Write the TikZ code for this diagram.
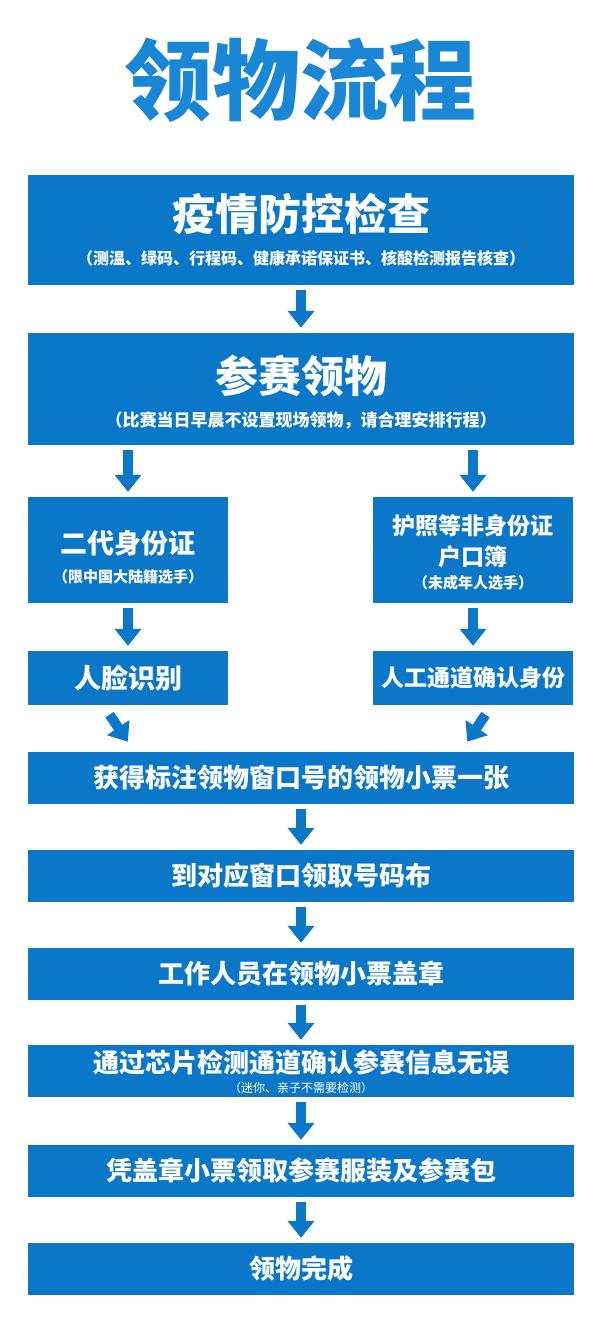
\documentclass[tikz,border=0pt]{standalone}
\usepackage{fontspec}
\setmainfont{Noto Sans CJK SC}
\usetikzlibrary{arrows.meta}
\definecolor{boxblue}{HTML}{0B77C8}
\definecolor{titleblue}{HTML}{1A86D6}
\tikzset{
    stepbox/.style={fill=boxblue, text=white, inner sep=0pt, font=\bfseries},
    flow/.style={draw=boxblue, line width=10pt, -{Triangle[width=26pt,length=17pt]}, shorten <=5pt, shorten >=5pt}
}
\begin{document}
\begin{tikzpicture}[x=1pt, y=-1pt]
    \useasboundingbox (0,0) rectangle (600,1324);

    \node[text=titleblue, font=\fontsize{88}{88}\selectfont\bfseries] (title) at (300,80) {领物流程};

    % upper boxes
    \node[stepbox, minimum width=546pt, minimum height=110pt] (check) at (301,230) {};
    \node[text=white, font=\fontsize{43}{43}\selectfont\bfseries] at (301,214) {疫情防控检查};
    \node[text=white, font=\fontsize{16}{16}\selectfont\bfseries] at (301,258) {（测温、绿码、行程码、健康承诺保证书、核酸检测报告核查）};

    \node[stepbox, minimum width=546pt, minimum height=112pt] (collect) at (301,389) {};
    \node[text=white, font=\fontsize{43}{43}\selectfont\bfseries] at (301,376) {参赛领物};
    \node[text=white, font=\fontsize{17}{17}\selectfont\bfseries] at (301,420) {（比赛当日早晨不设置现场领物，请合理安排行程）};

    % two branches
    \node[stepbox, minimum width=200pt, minimum height=106pt] (idcard) at (128,550) {};
    \node[text=white, font=\fontsize{27}{27}\selectfont\bfseries] at (128,543) {二代身份证};
    \node[text=white, font=\fontsize{15}{15}\selectfont\bfseries] at (128,577) {（限中国大陆籍选手）};

    \node[stepbox, minimum width=200pt, minimum height=106pt] (passport) at (473,550) {};
    \node[text=white, font=\fontsize{23}{23}\selectfont\bfseries] at (473,526) {护照等非身份证};
    \node[text=white, font=\fontsize{23}{23}\selectfont\bfseries] at (473,557) {户口簿};
    \node[text=white, font=\fontsize{15}{15}\selectfont\bfseries] at (473,583) {（未成年人选手）};

    \node[stepbox, minimum width=200pt, minimum height=54pt, font=\fontsize{27}{27}\selectfont\bfseries] (face) at (128,678) {人脸识别};
    \node[stepbox, minimum width=200pt, minimum height=54pt, font=\fontsize{23}{23}\selectfont\bfseries] (manual) at (473,678) {人工通道确认身份};

    % lower boxes
    \foreach \n/\y/\t in {ticket/778/获得标注领物窗口号的领物小票一张,
                          window/876/到对应窗口领取号码布,
                          stamp/974/工作人员在领物小票盖章,
                          chip/1071/{},
                          bag/1171/凭盖章小票领取参赛服装及参赛包,
                          done/1269/领物完成} {
        \node[stepbox, minimum width=546pt, minimum height=52pt, font=\fontsize{26}{26}\selectfont\bfseries] (\n) at (301,\y) {\t};
    }
    \node[text=white, font=\fontsize{26}{26}\selectfont\bfseries] at (301,1063) {通过芯片检测通道确认参赛信息无误};
    \node[text=white, font=\fontsize{12}{12}\selectfont] at (301,1088) {（迷你、亲子不需要检测）};

    % arrows
    \draw[flow] (check.south) -- (collect.north);
    \draw[flow] (collect.south -| idcard.north) -- (idcard.north);
    \draw[flow] (collect.south -| passport.north) -- (passport.north);
    \draw[flow] (idcard.south) -- (face.north);
    \draw[flow] (passport.south) -- (manual.north);
    \draw[flow, shorten <=8pt, shorten >=4pt] (105,708) -- (130,745);
    \draw[flow, shorten <=8pt, shorten >=4pt] (490,708) -- (465,745);
    \draw[flow] (ticket.south) -- (window.north);
    \draw[flow] (window.south) -- (stamp.north);
    \draw[flow] (stamp.south) -- (chip.north);
    \draw[flow] (chip.south) -- (bag.north);
    \draw[flow] (bag.south) -- (done.north);
\end{tikzpicture}
\end{document}
